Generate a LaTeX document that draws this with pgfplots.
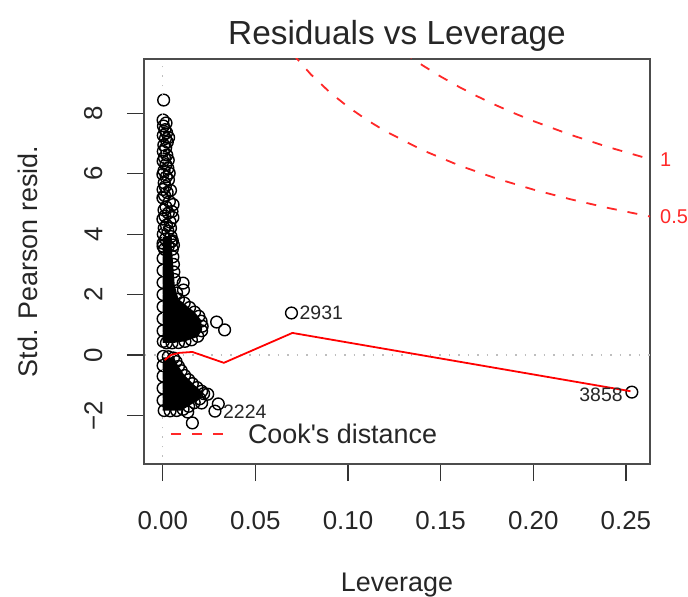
\documentclass[border=0pt]{standalone}
\usepackage{fontspec}
\setmainfont{Liberation Sans}
\usepackage{pgfplots}
\pgfplotsset{compat=1.18}
\definecolor{rred}{RGB}{255,40,40}
\definecolor{rgray}{RGB}{190,190,190}
\begin{document}
\begin{tikzpicture}
\useasboundingbox (-144bp,-133bp) rectangle (544bp,464bp);
\begin{axis}[
    at={(0,0)}, anchor=south west,
    scale only axis,
    width=506bp, height=405bp,
    xmin=-0.0101, xmax=0.263,
    ymin=-3.61, ymax=9.80,
    xtick={0,0.05,0.10,0.15,0.20,0.25},
    xticklabels={0.00,0.05,0.10,0.15,0.20,0.25},
    ytick={-2,0,2,4,6,8},
    yticklabels={−2,0,2,4,6,8},
    xtick pos=bottom, ytick pos=left,
    tick align=outside,
    major tick length=17bp,
    tick style={line width=1.3bp, color=black!80},
    axis line style={line width=1.6bp, color=black!70},
    ticklabel style={font=\fontsize{26}{30}\selectfont, text=black!85},
    xticklabel style={yshift=-27bp},
    yticklabel style={rotate=90, anchor=south, yshift=21bp},
    title={Residuals vs Leverage},
    title style={font=\fontsize{33.5}{38}\selectfont, text=black!85, at={(0.5,1)}, anchor=base, yshift=9bp, inner sep=0pt},
    xlabel={Leverage},
    xlabel style={font=\fontsize{27}{32}\selectfont, text=black!85, at={(axis description cs:0.5,-0.298)}, anchor=center},
    ylabel={Std. Pearson resid.},
    ylabel style={font=\fontsize{27}{32}\selectfont, text=black!85, at={(axis description cs:-0.229,0.5)}, anchor=center},
    clip mode=individual,
    legend style={at={(axis description cs:0.0514,0.074)}, anchor=west, draw=none, fill=none,
        inner sep=0pt, font=\fontsize{27}{32}\selectfont, text=black!85,
        nodes={inner sep=0pt},
        /tikz/every odd column/.append style={column sep=24bp}},
    legend image code/.code={\draw[#1] (0bp,0bp) -- (52bp,0bp);},
]
% dense cores
\addplot[fill=black, draw=none, forget plot] coordinates {
    (0.0000,3.90) (0.0045,3.90) (0.0060,2.70) (0.0065,2.30) (0.0085,1.85)
    (0.0116,1.70) (0.0172,1.42) (0.0207,1.16) (0.0213,0.83) (0.0189,0.60)
    (0.0124,0.46) (0.0060,0.40) (0.0000,0.40)} -- cycle;
\addplot[fill=black, draw=none, forget plot] coordinates {
    (0.0000,-0.08) (0.0060,-0.08) (0.0081,-0.33) (0.0116,-0.66) (0.0170,-0.99)
    (0.0221,-1.26) (0.0194,-1.49) (0.0140,-1.69) (0.0100,-1.84) (0.0000,-1.84)} -- cycle;
% observations
\addplot[only marks, mark=o, mark size=5.9pt, mark options={line width=1.4bp, draw=black}, forget plot] coordinates {
    (0.0005,8.44)
    (0.0002,7.78) (0.0018,7.68) (0.0004,7.58) (0.0012,7.46) (0.0021,7.36)
    (0.0003,7.27) (0.0015,7.17) (0.0025,7.05) (0.0006,6.95) (0.0016,6.86)
    (0.0003,6.74) (0.0022,6.62) (0.0009,6.54) (0.0002,6.42) (0.0017,6.30)
    (0.0028,6.18) (0.0007,6.10) (0.0001,5.98) (0.0019,5.90) (0.0031,5.80)
    (0.0008,5.70) (0.0014,5.58) (0.0002,5.48) (0.0024,5.38) (0.0010,5.28)
    (0.0001,5.20) (0.0036,5.08) (0.0056,4.98) (0.0018,4.90) (0.0007,4.80)
    (0.0030,4.70) (0.0012,4.60) (0.0001,4.50) (0.0040,4.40) (0.0020,4.30)
    (0.0008,4.20) (0.0028,4.10) (0.0003,4.00) (0.0045,3.92) (0.0015,3.84)
    (0.0052,3.78) (0.0058,3.64) (0.0002,3.70) (0.0030,3.60) (0.0010,3.50)
    (0.0032,7.20) (0.0030,6.45) (0.0035,6.02) (0.0042,5.45) (0.0050,4.75)
    (0.0055,4.55) (0.0042,4.20)
    (0.0045,3.75) (0.0052,3.50) (0.0055,3.25) (0.0058,3.00) (0.0060,2.75)
    (0.0063,2.50) (0.0110,2.38) (0.0112,2.15) (0.0075,2.05) (0.0085,1.85)
    (0.0116,1.72) (0.0145,1.57) (0.0172,1.42) (0.0195,1.28) (0.0207,1.12)
    (0.0213,0.95) (0.0210,0.80) (0.0189,0.62) (0.0155,0.50) (0.0120,0.45)
    (0.0085,0.41) (0.0050,0.40) (0.0020,0.40) (0.0003,0.45)
    (0.0002,0.80) (0.0002,1.20) (0.0002,1.60) (0.0002,2.00) (0.0002,2.40)
    (0.0002,2.80) (0.0002,3.20) (0.0002,3.60)
    (0.0291,1.09) (0.0334,0.83)
    (0.0003,-0.05) (0.0030,-0.06) (0.0058,-0.10) (0.0072,-0.22) (0.0085,-0.38)
    (0.0100,-0.52) (0.0118,-0.68) (0.0140,-0.82) (0.0160,-0.95) (0.0185,-1.08)
    (0.0210,-1.20) (0.0221,-1.28) (0.0200,-1.45) (0.0170,-1.58) (0.0140,-1.70)
    (0.0110,-1.80) (0.0075,-1.84) (0.0040,-1.85) (0.0008,-1.84) (0.0002,-1.50)
    (0.0002,-1.10) (0.0002,-0.70) (0.0002,-0.35)
    (0.0243,-1.30) (0.0210,-1.59) (0.0300,-1.62) (0.0282,-1.86) (0.0135,-1.89)
    (0.0160,-2.25)
    (0.0695,1.39) (0.2532,-1.23)
};
% reference lines
\addplot[rgray, line width=1.5bp, dash pattern=on 1.5bp off 8bp, forget plot] coordinates {(-0.02,0) (0.3,0)};
\addplot[rgray, line width=1.5bp, dash pattern=on 1.5bp off 8bp, forget plot] coordinates {(0,-4) (0,10.5)};
% smoother
\addplot[red, line width=1.8bp, forget plot] coordinates {
    (0.0010,-0.17) (0.0045,0.00) (0.0090,0.07) (0.0160,0.10) (0.0330,-0.26)
    (0.0700,0.73) (0.2525,-1.20)};
% Cook's distance contours
\addplot[rred, line width=1.8bp, dash pattern=on 10bp off 11bp] coordinates {
    (0.070,9.98) (0.080,9.287) (0.090,8.708) (0.100,8.216) (0.110,7.790)
    (0.120,7.416) (0.140,6.788) (0.160,6.275) (0.180,5.845) (0.200,5.477)
    (0.220,5.157) (0.240,4.873) (0.263,4.584)};
\addlegendentry{Cook\textquotesingle s distance}
\addplot[rred, line width=1.8bp, dash pattern=on 10bp off 11bp, forget plot] coordinates {
    (0.130,10.02) (0.140,9.599) (0.150,9.220) (0.160,8.874) (0.170,8.558)
    (0.180,8.266) (0.190,7.997) (0.200,7.746) (0.220,7.293) (0.240,6.892)
    (0.263,6.483)};
% labels
\node[anchor=west, inner sep=0pt, xshift=8bp, font=\fontsize{19.5}{22}\selectfont, text=black!85] at (axis cs:0.0695,1.39) {2931};
\node[anchor=east, inner sep=0pt, xshift=-9bp, yshift=-3bp, font=\fontsize{19.5}{22}\selectfont, text=black!85] at (axis cs:0.2532,-1.23) {3858};
\node[anchor=west, inner sep=0pt, xshift=8bp, yshift=-1bp, font=\fontsize{19.5}{22}\selectfont, text=black!85] at (axis cs:0.0282,-1.86) {2224};
\node[anchor=west, inner sep=0pt, xshift=10bp, font=\fontsize{20}{24}\selectfont, text=rred] at (axis cs:0.263,6.48) {1};
\node[anchor=west, inner sep=0pt, xshift=10bp, font=\fontsize{20}{24}\selectfont, text=rred] at (axis cs:0.263,4.58) {0.5};
\end{axis}
\end{tikzpicture}
\end{document}
